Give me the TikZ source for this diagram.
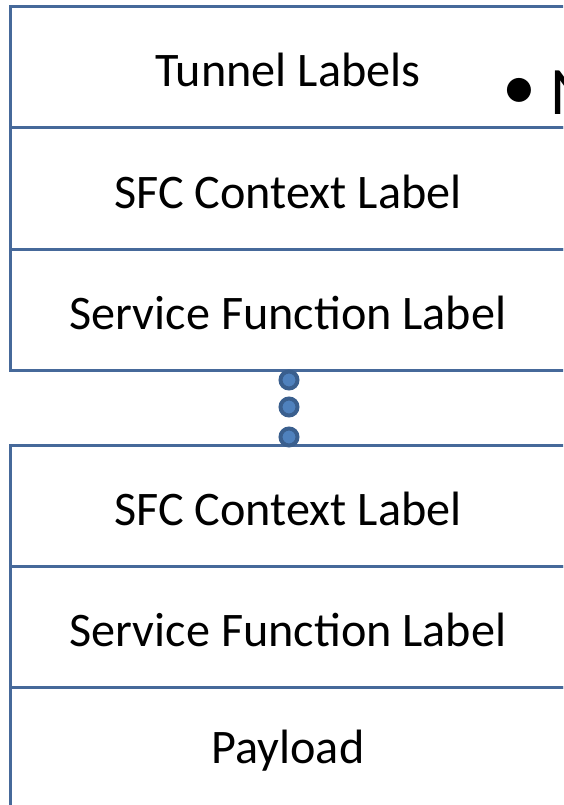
\documentclass[tikz,border=0pt]{standalone}
\usepackage{fontspec}
\setmainfont{Carlito}
\definecolor{layerblue}{HTML}{46699A}
\definecolor{dotfill}{HTML}{4F81BD}
\definecolor{dotrim}{HTML}{3A5F8E}
\begin{document}
\begin{tikzpicture}[
    x=1pt, y=-1pt,
    layer/.style={draw=layerblue, line width=3pt, minimum width=556pt, minimum height=121pt,
                  inner sep=0pt},
    label text/.style={yshift=-3pt, font=\fontsize{48.2}{52}\selectfont},
    stackdot/.style={circle, draw=dotrim, fill=dotfill, line width=4pt,
                     minimum size=17pt, inner sep=0pt}
]
    \useasboundingbox (0,0) rectangle (563,805);
    \clip (0,0) rectangle (563,805);

    % Upper label stack
    \node[layer] (tunnel)  at (288, 67)    {};
    \node[layer] (ctxone)  at (288, 188.5) {};
    \node[layer] (sfone)   at (288, 309.5) {};

    % Lower label stack
    \node[layer] (ctxtwo)  at (288, 505.5) {};
    \node[layer] (sftwo)   at (288, 626.5) {};
    \node[layer] (payload) at (288, 747.5) {};

    % Labels of the layers
    \foreach \n/\t in {tunnel/Tunnel Labels, ctxone/SFC Context Label, sfone/Service Function Label,
                       ctxtwo/SFC Context Label, sftwo/Service Function Label, payload/Payload}
        \node[label text] (\n-text) at (\n) {\t};

    % Dots between the stacks
    \node[stackdot] (dota) at (289, 380) {};
    \node[stackdot] (dotb) at (289, 407) {};
    \node[stackdot] (dotc) at (289, 437) {};

    % Bullet text cut off at the right
    \node[anchor=base west, inner sep=0pt, font=\fontsize{68}{72}\selectfont] (bullet) at (502, 115)
        {\raisebox{5pt}{•}\hspace{14pt}N};

\end{tikzpicture}
\end{document}
